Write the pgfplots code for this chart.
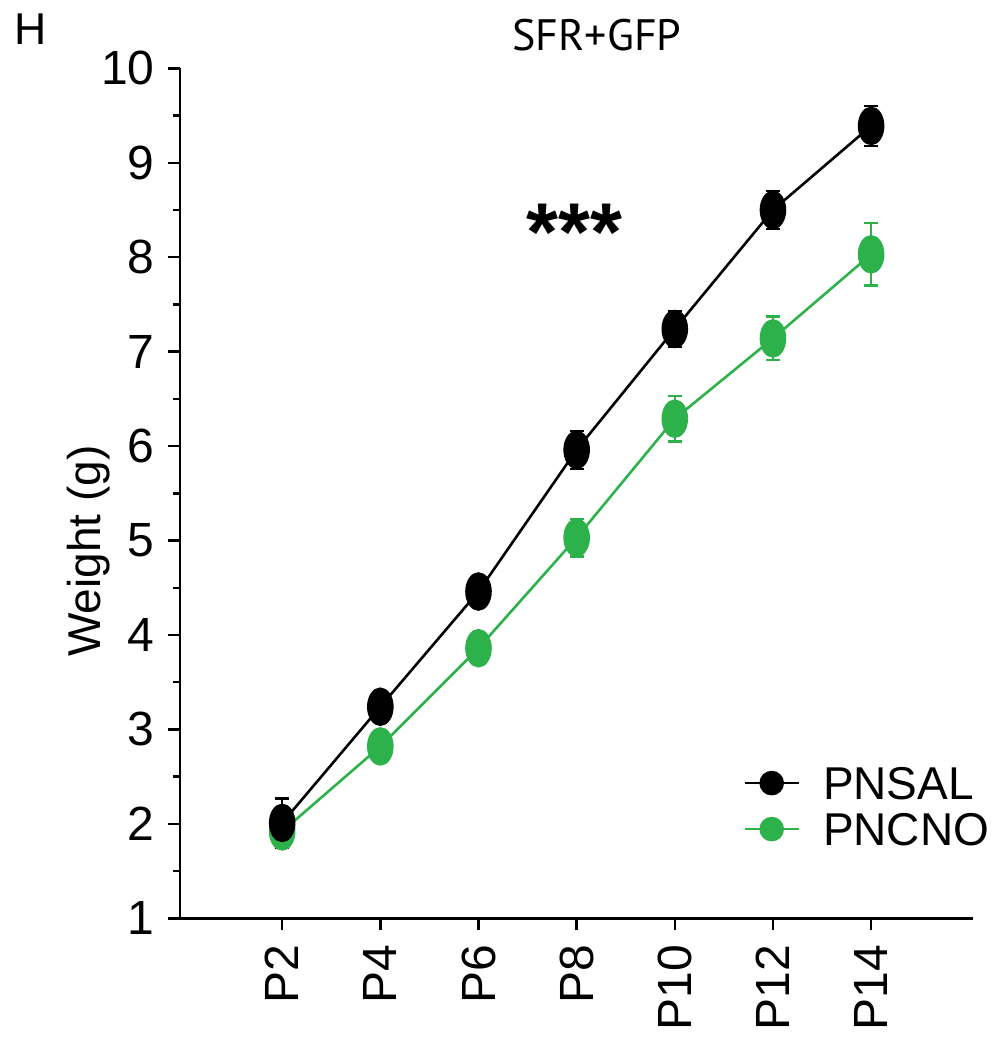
\documentclass[border=0pt]{standalone}
\usepackage{pgfplots}
\pgfplotsset{compat=1.18}
\usepackage{pgfplotstable}
\usepackage{fontspec}
\setmainfont{Liberation Sans}
\newfontfamily\titlefont{PT Sans}
\definecolor{cnogreen}{RGB}{45,178,75}

% Body weight (g) per postnatal day: mean and error
\pgfplotstableread{
x  y     err
0  2.01  0.26
1  3.24  0.12
2  4.46  0.15
3  5.96  0.20
4  7.24  0.19
5  8.50  0.20
6  9.39  0.21
}\pnsal
\pgfplotstableread{
x  y     err
0  1.92  0.10
1  2.82  0.12
2  3.86  0.15
3  5.03  0.20
4  6.29  0.24
5  7.14  0.23
6  8.03  0.33
}\pncno

\begin{document}
\begin{tikzpicture}
\begin{axis}[
  scale only axis, width=396.85pt, height=425pt,
  xmin=-1.043, xmax=7.043, ymin=1, ymax=10,
  axis lines=left,
  axis line style={-, line width=1.25pt},
  x axis line style={line width=1.6pt},
  clip=false,
  xtick={0,...,6}, xticklabels={P2,P4,P6,P8,P10,P12,P14},
  ytick={1,...,10}, minor y tick num=1,
  tick align=outside, major tick length=6pt, minor tick length=3.5pt,
  every tick/.style={line width=1.25pt, black},
  tick label style={font=\fontsize{24}{24}\selectfont},
  xticklabel style={rotate=90, anchor=east, inner sep=0pt, xshift=-7pt},
  yticklabel style={anchor=east, inner sep=0pt, xshift=-6.5pt},
  /pgf/number format/assume math mode=true,
  ylabel={Weight (g)},
  ylabel style={at={(axis description cs:-0.1005,0.4321)}, anchor=base,
    inner sep=0pt, font=\fontsize{23}{23}\selectfont},
  legend image code/.code={\draw[#1, mark repeat=2, mark phase=2]
    plot coordinates {(0pt,0pt) (13.5pt,0pt) (27pt,0pt)};},
  legend cell align=left,
  legend style={at={(rel axis cs:0.7096,0.132)}, anchor=west,
    draw=none, fill=none, inner sep=0pt, row sep=6.5pt, column sep=11.5pt,
    font=\fontsize{23}{23}\selectfont,
    nodes={inner sep=0pt, text height=16.5pt, text depth=0pt}},
]
\coordinate (o) at (rel axis cs:0,0);

\addlegendimage{black, line width=1.3pt, mark=*, mark size=5.5pt}
\addlegendentry{PNSAL}
\addlegendimage{cnogreen, line width=1.3pt, mark=*, mark size=5.5pt}
\addlegendentry{PNCNO}

\addplot[cnogreen, line width=1.3pt, mark=*, mark size=6pt,
  mark options={yscale=1.5},
  error bars/.cd, y dir=both, y explicit,
  error bar style={line width=1.25pt},
  error mark=-, error mark options={rotate=90, line width=1.25pt, mark size=3.5pt}]
  table[x=x, y=y, y error=err] {\pncno};
\addplot[black, line width=1.3pt, mark=*, mark size=6pt,
  mark options={yscale=1.5},
  error bars/.cd, y dir=both, y explicit,
  error bar style={line width=1.25pt},
  error mark=-, error mark options={rotate=90, line width=1.25pt, mark size=3.5pt}]
  table[x=x, y=y, y error=err] {\pnsal};

\node[anchor=base, inner sep=0pt, font=\fontsize{41}{41}\selectfont\bfseries]
  at (axis cs:2.98,7.97) {***};
\node[anchor=base, inner sep=0pt, font=\titlefont\fontsize{22}{22}\selectfont]
  at (axis cs:3.207,10.187) {SFR+GFP};
\node[anchor=base west, inner sep=0pt, font=\fontsize{22.3}{22.3}\selectfont]
  at (axis cs:-2.733,10.247) {H};
\end{axis}
\path (o) ++(-89.9pt,-63.85pt) rectangle ++(499.5pt,523pt);
\end{tikzpicture}
\end{document}
